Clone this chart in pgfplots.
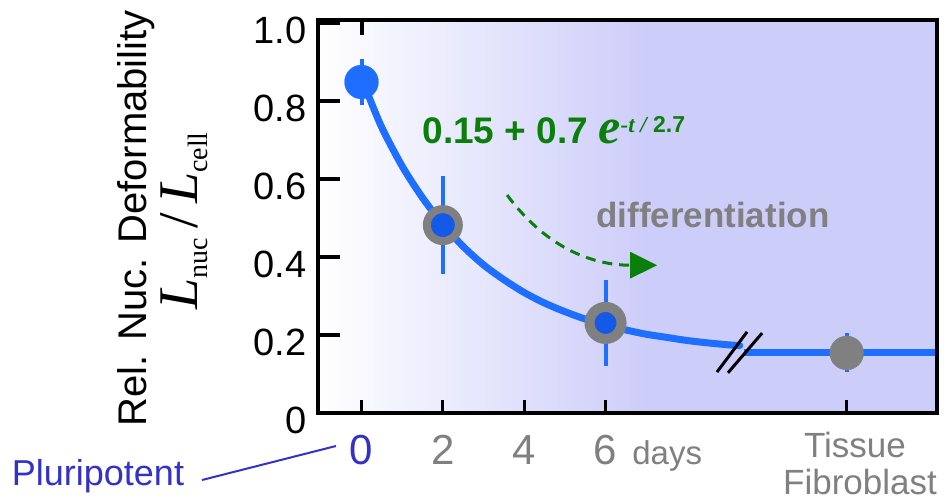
\documentclass[border=0pt]{standalone}
\usepackage{pgfplots}
\pgfplotsset{compat=1.18}
\usepackage{fontspec}
\setmainfont{Liberation Sans}
\newfontfamily\seriffont{Liberation Serif}
\usetikzlibrary{arrows.meta}
\definecolor{lineblue}{RGB}{30,110,255}
\definecolor{innerblue}{RGB}{20,90,230}
\definecolor{labblue}{RGB}{50,50,200}
\definecolor{txtgray}{RGB}{128,128,128}
\definecolor{mkgray}{RGB}{128,128,128}
\definecolor{fitgreen}{RGB}{10,128,10}
\definecolor{bglav}{RGB}{205,205,250}
\begin{document}
\begin{tikzpicture}
\useasboundingbox (-159pt,-45pt) rectangle (313pt,206.5pt);
\begin{axis}[
  at={(0,0)}, anchor=south west,
  scale only axis, width=309.5pt, height=196.5pt,
  xmin=-1.07, xmax=14.15, ymin=0, ymax=1.008,
  axis on top,
  axis line style={line width=2pt},
  tick align=inside,
  major tick length=11pt,
  xtick={0,2,4,6,11.93},
  xticklabels={\textcolor{labblue}{0},2,4,6,{}},
  xtick pos=left, ytick pos=left,
  xtick style={draw=none},
  ytick style={line width=2pt, black},
  ytick={0,0.2,0.4,0.6,0.8,1.0},
  yticklabels={0,0.2,0.4,0.6,0.8,1.0},
  xticklabel style={font=\fontsize{21}{21}\selectfont, text=txtgray, anchor=center, yshift=-18.5pt},
  yticklabel style={font=\fontsize{19}{19}\selectfont, anchor=east, inner sep=0pt, xshift=-5.5pt, yshift=-3.5pt},
]
% background gradient
\fill[left color=white, right color=bglav, draw=none] (axis cs:-1.07,0) rectangle (axis cs:7,1.008);
\fill[bglav, draw=none] (axis cs:6.98,0) rectangle (axis cs:14.15,1.008);
% bottom ticks and top tick
\pgfplotsinvokeforeach{0,2,4,6,11.93}{\draw[line width=1.6pt] (axis cs:#1,0) -- ++(0pt,6.5pt);}
\draw[line width=2pt] (axis cs:0,1.008) -- ++(0pt,-7.5pt);
% fitted curve
\addplot[lineblue, line width=3.5pt, smooth, line cap=round] coordinates {
(0.15,0.82) (0.5,0.732) (1,0.633) (1.5,0.552) (2,0.484) (2.5,0.427) (3,0.380)
(3.5,0.342) (4,0.309) (4.5,0.282) (5,0.260) (5.5,0.241) (6,0.226) (6.5,0.213)
(7,0.202) (7.5,0.194) (8,0.186) (8.5,0.180) (9,0.175) (9.3,0.173)};
\addplot[lineblue, line width=3.5pt] coordinates {(9.4,0.154) (14.15,0.154)};
% break marks
\draw[black, line width=1.5pt] (axis cs:8.74,0.105) -- (axis cs:9.48,0.208);
\draw[black, line width=1.5pt] (axis cs:9.01,0.103) -- (axis cs:9.85,0.205);
% data points
\addplot[only marks, mark=*, mark size=8.5pt, mark options={fill=lineblue, draw=lineblue, line width=0.1pt},
  error bars/.cd, y dir=both, y explicit, error mark=none,
  error bar style={line width=2pt, draw=lineblue, solid}]
  coordinates {(0,0.849) +- (0,0.06)};
\addplot[only marks, mark=*, mark size=8pt, mark options={fill=innerblue, draw=mkgray, line width=4pt},
  error bars/.cd, y dir=both, y explicit, error mark=none,
  error bar style={line width=2pt, draw=lineblue, solid}]
  coordinates {(2,0.482) +- (0,0.125)};
\addplot[only marks, mark=*, mark size=8pt, mark options={fill=innerblue, draw=mkgray, line width=5pt},
  error bars/.cd, y dir=both, y explicit, error mark=none,
  error bar style={line width=2pt, draw=lineblue, solid}]
  coordinates {(6,0.231) +- (0,0.11)};
\addplot[only marks, mark=*, mark size=8.5pt, mark options={fill=mkgray, draw=mkgray, line width=0.1pt},
  error bars/.cd, y dir=both, y explicit, error mark=none,
  error bar style={line width=2pt, draw=lineblue, solid}]
  coordinates {(11.93,0.154) +- (0,0.05)};
% annotations
\node[anchor=west, text=fitgreen, inner sep=0pt] at (axis cs:1.49,0.726)
  {\fontsize{18.5}{20}\selectfont\bfseries 0.15 + 0.7 {\seriffont\fontsize{25}{25}\selectfont\itshape e}\raisebox{5.5pt}{\fontsize{11.5}{11.5}\selectfont{\seriffont\itshape -t /} \bfseries 2.7}};
\node[text=txtgray, inner sep=0pt] at (axis cs:8.64,0.508)
  {\fontsize{17.5}{18}\selectfont\bfseries differentiation};
\draw[fitgreen, line width=1.5pt, dash pattern=on 5pt off 3.5pt, -{Triangle[length=13.5pt,width=13pt]}]
  (axis cs:3.58,0.559) .. controls (axis cs:4.5,0.43) and (axis cs:5.6,0.379) .. (axis cs:7.27,0.379);
\end{axis}
% outside labels
\node[rotate=90, anchor=base, inner sep=0pt] at (-85.5pt,97.3pt)
  {\fontsize{20}{20}\selectfont Rel. Nuc. Deformability};
\node[rotate=90, anchor=base, inner sep=0pt] at (-60pt,96pt)
  {\seriffont\fontsize{28}{28}\selectfont\itshape L\/\upshape\fontsize{14}{14}\selectfont\raisebox{-5pt}{nuc}\fontsize{28}{28}\selectfont\,/\,\itshape L\/\upshape\fontsize{14}{14}\selectfont\raisebox{-5pt}{cell}};
\node[anchor=base west, inner sep=0pt, text=txtgray] at (157pt,-26pt) {\fontsize{16.5}{16.5}\selectfont days};
\node[text=txtgray, inner sep=0pt] at (268.5pt,-16pt) {\fontsize{17.5}{18}\selectfont Tissue};
\node[text=txtgray, inner sep=0pt] at (271pt,-34.5pt) {\fontsize{17.5}{18}\selectfont Fibroblast};
\node[text=labblue, inner sep=0pt] at (-110pt,-31.5pt) {\fontsize{18}{18}\selectfont Pluripotent};
\draw[labblue, line width=1pt] (-58pt,-33.5pt) -- (9pt,-16.5pt);
\end{tikzpicture}
\end{document}
